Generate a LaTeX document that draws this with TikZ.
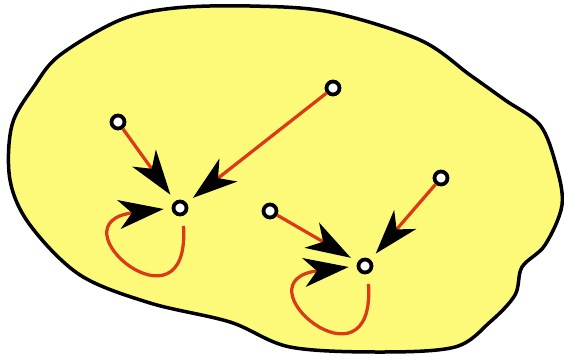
\documentclass[tikz,border=0pt]{standalone}
\usepackage{tikz}
\usetikzlibrary{arrows.meta,calc}
\definecolor{blobyellow}{RGB}{253,250,122}
\definecolor{linkred}{RGB}{218,58,22}
\tikzstyle{region} = [draw=black, line width=0.07cm, fill=blobyellow]
\tikzstyle{vertex} = [circle, draw=black, line width=0.075cm, fill=white, inner sep=0pt, minimum size=0.26cm]
\tikzstyle{link} = [draw=linkred, line width=0.065cm, -{Stealth[length=0.9cm, width=0.58cm, inset=0.26cm, color=black]}, shorten >=0.16cm]
\tikzset{
  selfloop/.style={
    link,
    shorten <=0.2cm % the loop leaves the vertex below and comes back in from the left
  }
}

\begin{document}
\begin{tikzpicture}[x=0.02cm, y=-0.02cm]
    \useasboundingbox (0,0) rectangle (564,355);
    \draw[region] plot[smooth cycle, tension=0.55] coordinates {
      (175,8) (250,6) (330,12) (420,40) (470,75) (505,100) (540,125)
      (556,165) (562,205) (545,245) (522,267) (515,295) (490,322)
      (455,347) (380,352) (290,347) (230,322) (150,303) (80,275)
      (30,225) (10,180) (12,125) (35,85) (60,55) (120,20)};

    \node (a1)[vertex] at (118,122) {};
    \node (a2)[vertex] at (333,88) {};
    \node (ac)[vertex] at (180,208) {};
    \node (b1)[vertex] at (270,211) {};
    \node (b2)[vertex] at (441,178) {};
    \node (bc)[vertex] at (365,266) {};

    \draw[link] (a1)--(ac);
    \draw[link] (a2)--(ac);
    \draw[link] (b1)--(bc);
    \draw[link] (b2)--(bc);
    \draw[selfloop] (ac.-70) .. controls +(8,125) and +(-122,15) .. (ac.west);
    \draw[selfloop] (bc.-70) .. controls +(8,125) and +(-122,15) .. (bc.west);

  \end{tikzpicture}
\end{document}
